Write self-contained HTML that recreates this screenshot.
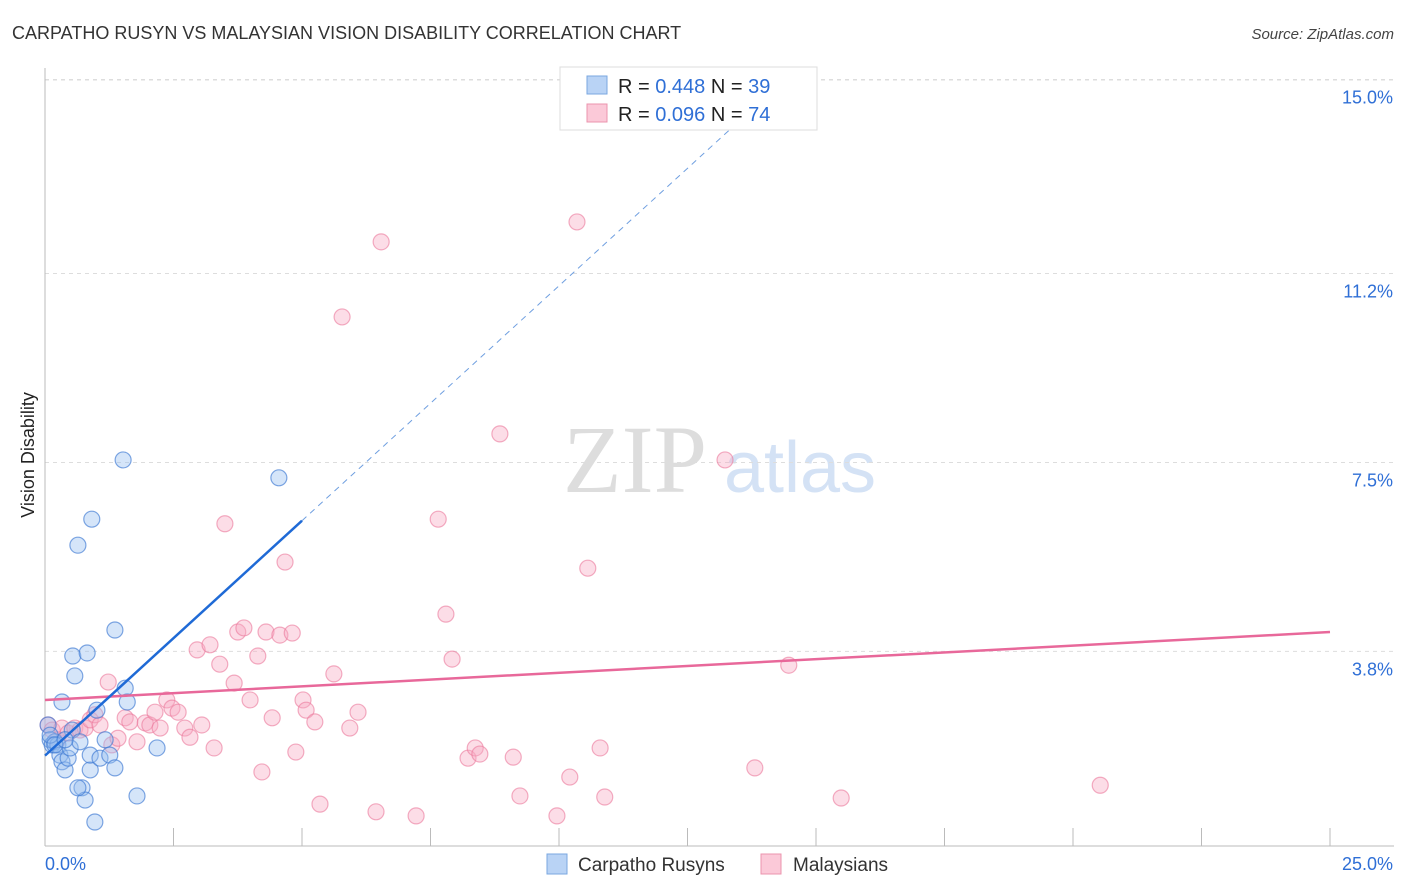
<!DOCTYPE html>
<html><head><meta charset="utf-8"><style>
body{margin:0;background:#fff;font-family:"Liberation Sans",sans-serif}
svg{display:block}
</style></head><body>
<svg id="chart" width="1406" height="892" viewBox="0 0 1406 892">
<text x="12" y="39" font-size="18" fill="#333">CARPATHO RUSYN VS MALAYSIAN VISION DISABILITY CORRELATION CHART</text>
<text x="1394" y="39" font-size="15" fill="#444" font-style="italic" text-anchor="end">Source: ZipAtlas.com</text>
<text x="635" y="492" font-size="96" fill="#ddd" font-family="Liberation Serif,serif" text-anchor="middle">ZIP</text>
<text x="800" y="492" font-size="72" fill="#d4e2f5" text-anchor="middle">atlas</text>
<text transform="translate(34,455) rotate(-90)" font-size="18" fill="#222" text-anchor="middle">Vision Disability</text>
<g id="grid"></g><g id="axes"></g><g id="pts"></g><g id="lines"></g>
<g>
<rect x="560" y="67" width="257" height="63" fill="#fff" stroke="#ddd"/>
<rect x="587" y="76" width="20" height="18" fill="#b9d3f5" stroke="#7aa7e0"/>
<rect x="587" y="104" width="20" height="18" fill="#fbc9d8" stroke="#eb94ae"/>
<text x="618" y="93" font-size="20" fill="#222">R = <tspan fill="#2f6fd6">0.448</tspan>   N = <tspan fill="#2f6fd6">39</tspan></text>
<text x="618" y="121" font-size="20" fill="#222">R = <tspan fill="#2f6fd6">0.096</tspan>   N = <tspan fill="#2f6fd6">74</tspan></text>
</g>
<g>
<rect x="547" y="854" width="20" height="20" fill="#b9d3f5" stroke="#7aa7e0"/>
<text x="578" y="871" font-size="19" fill="#333">Carpatho Rusyns</text>
<rect x="761" y="854" width="20" height="20" fill="#fbc9d8" stroke="#eb94ae"/>
<text x="793" y="871" font-size="19" fill="#333">Malaysians</text>
</g>
</svg>
<script>
const yTicks=[3.8,7.5,11.2,15.0];
const yTickLabels=["3.8%","7.5%","11.2%","15.0%"];
const xTickLabels=["0.0%","25.0%"];
const bluePx=[[48,725],[50,740],[52,745],[55,742],[58,745],[60,755],[62,762],[65,770],[68,758],[70,748],[72,730],[75,676],[73,656],[78,545],[80,742],[82,788],[85,800],[87,653],[90,770],[90,755],[92,519],[95,822],[97,710],[100,758],[105,740],[110,755],[115,630],[115,768],[123,460],[125,688],[127,702],[137,796],[157,748],[279,478],[62,702],[50,735],[55,745],[65,740],[78,788]];
const pinkPx=[[48,725],[52,730],[58,740],[62,728],[68,733],[75,728],[80,730],[85,728],[90,720],[95,715],[100,725],[108,682],[112,745],[118,738],[125,718],[130,722],[137,742],[145,723],[150,725],[155,712],[160,728],[167,700],[172,708],[178,712],[185,728],[190,737],[197,650],[202,725],[210,645],[214,748],[220,664],[225,524],[234,683],[238,632],[244,628],[250,700],[258,656],[262,772],[266,632],[272,718],[280,635],[285,562],[292,633],[296,752],[303,700],[306,710],[315,722],[320,804],[334,674],[342,317],[350,728],[358,712],[376,812],[381,242],[416,816],[438,519],[446,614],[452,659],[468,758],[475,748],[480,754],[500,434],[513,757],[520,796],[557,816],[570,777],[577,222],[588,568],[600,748],[605,797],[725,460],[755,768],[789,665],[841,798],[1100,785]];
// convert read pixels into data values (% units)
const blueX=bluePx.map(p=>+((p[0]-45)/51.4).toFixed(2));
const blueY=bluePx.map(p=>+((845.5-p[1])/51.07).toFixed(2));
const pinkX=pinkPx.map(p=>+((p[0]-45)/51.4).toFixed(2));
const pinkY=pinkPx.map(p=>+((845.5-p[1])/51.07).toFixed(2));
const blueTrend=[[0,1.76],[5,6.36]];
const blueDash=[5,14.15];
const pinkTrend=[[0,2.85],[25,4.18]];
const X=v=>45+v*51.4, Y=v=>845.5-v*51.07;
const NS="http://www.w3.org/2000/svg";
function mk(t,a,parent){const e=document.createElementNS(NS,t);for(const k in a)e.setAttribute(k,a[k]);document.getElementById(parent).appendChild(e);return e;}
yTicks.forEach((t,i)=>{
 const l=mk('line',{x1:45,x2:1394,y1:Y(t),y2:Y(t),stroke:'#ddd','stroke-dasharray':'4,4'},'grid');
 
 
 const tx=mk('text',{x:1393,y:Y(t)+24,'font-size':18,fill:'#2f6fd6','text-anchor':'end'},'grid');
 tx.textContent=yTickLabels[i];
 
 
});
const gl=mk('line',{x1:45,x2:1394,y1:80,y2:80,stroke:'#ddd','stroke-dasharray':'4,4'},'grid');


const ya=mk('line',{x1:45,x2:45,y1:68,y2:846,stroke:'#bbb'},'axes');


const xa=mk('line',{x1:45,x2:1394,y1:846,y2:846,stroke:'#bbb'},'axes');


for(let i=0;i<=10;i++){const v=i*2.5;
 const t=mk('line',{x1:X(v),x2:X(v),y1:828,y2:846,stroke:'#bbb'},'axes');
 
 }
[[0,45,'start'],[25,1393,'end']].forEach((d,i)=>{
 const t=mk('text',{x:d[1],y:870,'font-size':18,fill:'#2f6fd6','text-anchor':d[2]},'axes');
 t.textContent=xTickLabels[i];
 
 });
pinkX.forEach((x,i)=>{
 const c=mk('circle',{cx:X(x),cy:Y(pinkY[i]),r:8,fill:'rgba(248,170,195,0.4)',stroke:'rgba(235,120,155,0.6)','stroke-width':1.2},'pts');
 
 });
blueX.forEach((x,i)=>{
 const c=mk('circle',{cx:X(x),cy:Y(blueY[i]),r:8,fill:'rgba(150,190,240,0.4)',stroke:'rgba(60,120,210,0.65)','stroke-width':1.2},'pts');
 
 });
const pl=mk('line',{x1:X(pinkTrend[0][0]),y1:Y(pinkTrend[0][1]),x2:X(pinkTrend[1][0]),y2:Y(pinkTrend[1][1]),stroke:'#e8689a','stroke-width':2.5},'lines');


const bl=mk('line',{x1:X(blueTrend[0][0]),y1:Y(blueTrend[0][1]),x2:X(blueTrend[1][0]),y2:Y(blueTrend[1][1]),stroke:'#1f6ad6','stroke-width':2.5},'lines');


const bd=mk('line',{x1:X(blueTrend[1][0]),y1:Y(blueTrend[1][1]),x2:X(blueDash[0]+ (blueDash[1]-blueTrend[1][1])/((blueTrend[1][1]-blueTrend[0][1])/5)),y2:Y(blueDash[1]),stroke:'#6f9fe0','stroke-width':1,'stroke-dasharray':'6,5'},'lines');


</script>
</body></html>
